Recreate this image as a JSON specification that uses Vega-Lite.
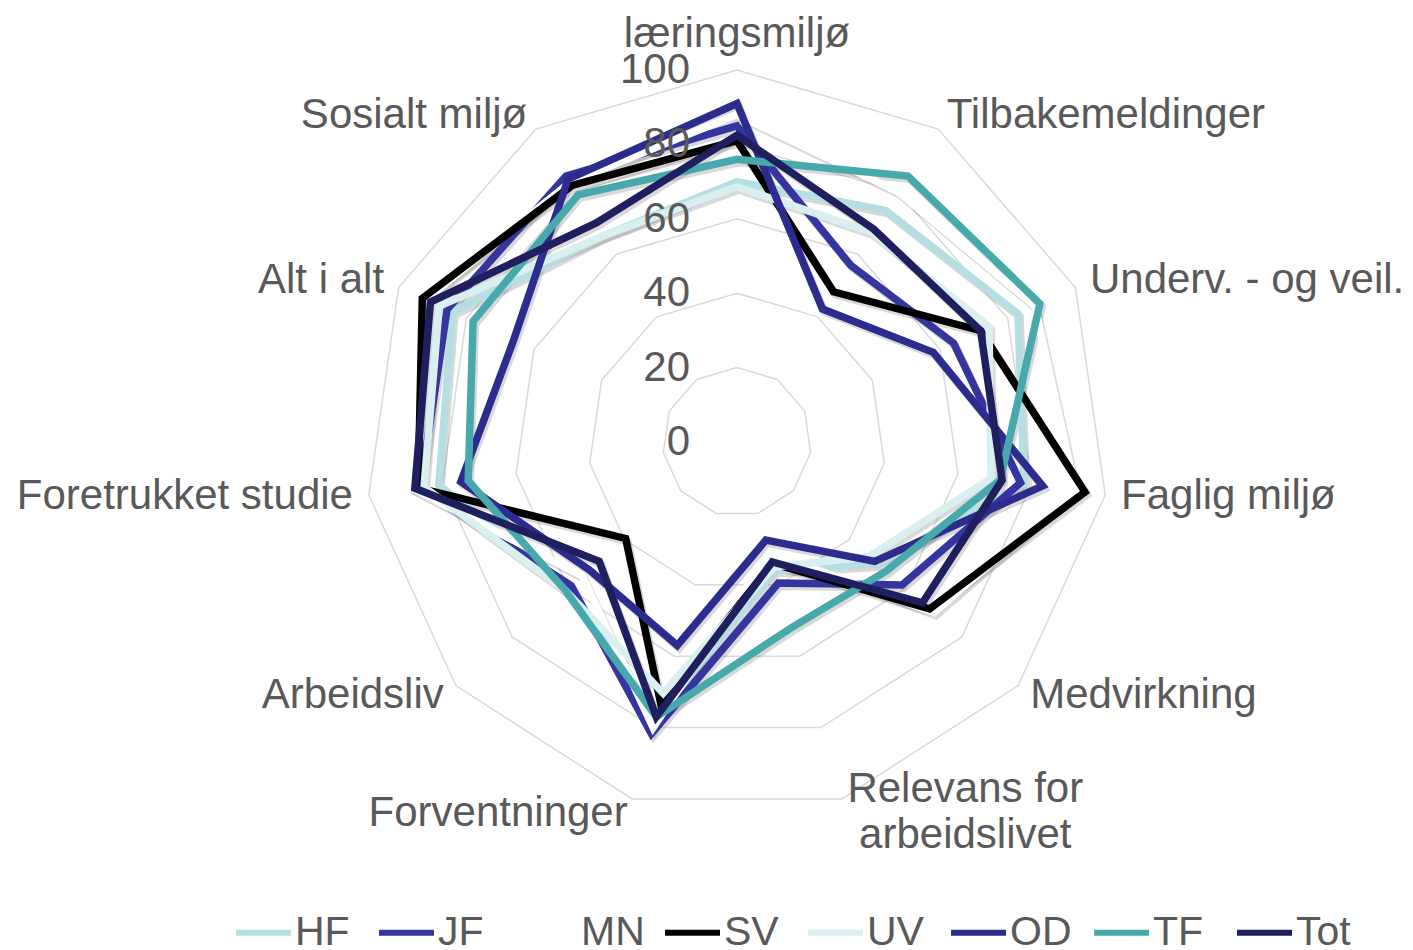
{
  "$schema": "https://vega.github.io/schema/vega-lite/v6.json",
  "width": 1413,
  "height": 950,
  "padding": 0,
  "autosize": {"type": "none"},
  "background": "white",
  "config": {"view": {"stroke": null}, "font": "Liberation Sans"},
  "datasets": {
    "axes": [
      {"idx": 0, "axis": "læringsmiljø"},
      {"idx": 1, "axis": "Tilbakemeldinger"},
      {"idx": 2, "axis": "Underv. - og veil."},
      {"idx": 3, "axis": "Faglig miljø"},
      {"idx": 4, "axis": "Medvirkning"},
      {"idx": 5, "axis": "Relevans for arbeidslivet"},
      {"idx": 6, "axis": "Forventninger"},
      {"idx": 7, "axis": "Arbeidsliv"},
      {"idx": 8, "axis": "Foretrukket studie"},
      {"idx": 9, "axis": "Alt i alt"},
      {"idx": 10, "axis": "Sosialt miljø"}
    ],
    "levels": [
      {"level": 20, "idx": [0,1,2,3,4,5,6,7,8,9,10]},
      {"level": 40, "idx": [0,1,2,3,4,5,6,7,8,9,10]},
      {"level": 60, "idx": [0,1,2,3,4,5,6,7,8,9,10]},
      {"level": 80, "idx": [0,1,2,3,4,5,6,7,8,9,10]},
      {"level": 100, "idx": [0,1,2,3,4,5,6,7,8,9,10]}
    ],
    "ticks": [
      {"level": 0}, {"level": 20}, {"level": 40}, {"level": 60}, {"level": 80}, {"level": 100}
    ],
    "scores": [
      {"series": "HF", "axis": "læringsmiljø", "value": 70},
      {"series": "HF", "axis": "Tilbakemeldinger", "value": 74},
      {"series": "HF", "axis": "Underv. - og veil.", "value": 83},
      {"series": "HF", "axis": "Faglig miljø", "value": 78},
      {"series": "HF", "axis": "Medvirkning", "value": 50},
      {"series": "HF", "axis": "Relevans for arbeidslivet", "value": 36},
      {"series": "HF", "axis": "Forventninger", "value": 77},
      {"series": "HF", "axis": "Arbeidsliv", "value": 60},
      {"series": "HF", "axis": "Foretrukket studie", "value": 81},
      {"series": "HF", "axis": "Alt i alt", "value": 84},
      {"series": "HF", "axis": "Sosialt miljø", "value": 66},

      {"series": "JF", "axis": "læringsmiljø", "value": 85},
      {"series": "JF", "axis": "Tilbakemeldinger", "value": 56.5},
      {"series": "JF", "axis": "Underv. - og veil.", "value": 64},
      {"series": "JF", "axis": "Faglig miljø", "value": 77},
      {"series": "JF", "axis": "Medvirkning", "value": 58.7},
      {"series": "JF", "axis": "Relevans for arbeidslivet", "value": 39.5},
      {"series": "JF", "axis": "Forventninger", "value": 81.7},
      {"series": "JF", "axis": "Arbeidsliv", "value": 59},
      {"series": "JF", "axis": "Foretrukket studie", "value": 86},
      {"series": "JF", "axis": "Alt i alt", "value": 85.7},
      {"series": "JF", "axis": "Sosialt miljø", "value": 85},

      {"series": "MN", "axis": "læringsmiljø", "value": 88},
      {"series": "MN", "axis": "Tilbakemeldinger", "value": 80},
      {"series": "MN", "axis": "Underv. - og veil.", "value": 88},
      {"series": "MN", "axis": "Faglig miljø", "value": 92},
      {"series": "MN", "axis": "Medvirkning", "value": 70},
      {"series": "MN", "axis": "Relevans for arbeidslivet", "value": 31},
      {"series": "MN", "axis": "Forventninger", "value": 80},
      {"series": "MN", "axis": "Arbeidsliv", "value": 55},
      {"series": "MN", "axis": "Foretrukket studie", "value": 88},
      {"series": "MN", "axis": "Alt i alt", "value": 92},
      {"series": "MN", "axis": "Sosialt miljø", "value": 83},

      {"series": "SV", "axis": "læringsmiljø", "value": 81},
      {"series": "SV", "axis": "Tilbakemeldinger", "value": 48},
      {"series": "SV", "axis": "Underv. - og veil.", "value": 72},
      {"series": "SV", "axis": "Faglig miljø", "value": 94.5},
      {"series": "SV", "axis": "Medvirkning", "value": 68.5},
      {"series": "SV", "axis": "Relevans for arbeidslivet", "value": 34},
      {"series": "SV", "axis": "Forventninger", "value": 73},
      {"series": "SV", "axis": "Arbeidsliv", "value": 39.6},
      {"series": "SV", "axis": "Foretrukket studie", "value": 86.6},
      {"series": "SV", "axis": "Alt i alt", "value": 93},
      {"series": "SV", "axis": "Sosialt miljø", "value": 82},

      {"series": "UV", "axis": "læringsmiljø", "value": 68.6},
      {"series": "UV", "axis": "Tilbakemeldinger", "value": 67},
      {"series": "UV", "axis": "Underv. - og veil.", "value": 74.5},
      {"series": "UV", "axis": "Faglig miljø", "value": 69},
      {"series": "UV", "axis": "Medvirkning", "value": 47},
      {"series": "UV", "axis": "Relevans for arbeidslivet", "value": 35},
      {"series": "UV", "axis": "Forventninger", "value": 70.4},
      {"series": "UV", "axis": "Arbeidsliv", "value": 61},
      {"series": "UV", "axis": "Foretrukket studie", "value": 85},
      {"series": "UV", "axis": "Alt i alt", "value": 88},
      {"series": "UV", "axis": "Sosialt miljø", "value": 66},

      {"series": "OD", "axis": "læringsmiljø", "value": 91},
      {"series": "OD", "axis": "Tilbakemeldinger", "value": 42.5},
      {"series": "OD", "axis": "Underv. - og veil.", "value": 58},
      {"series": "OD", "axis": "Faglig miljø", "value": 83},
      {"series": "OD", "axis": "Medvirkning", "value": 49},
      {"series": "OD", "axis": "Relevans for arbeidslivet", "value": 27.5},
      {"series": "OD", "axis": "Forventninger", "value": 57},
      {"series": "OD", "axis": "Arbeidsliv", "value": 52.5},
      {"series": "OD", "axis": "Foretrukket studie", "value": 75},
      {"series": "OD", "axis": "Alt i alt", "value": 66},
      {"series": "OD", "axis": "Sosialt miljø", "value": 84},

      {"series": "TF", "axis": "læringsmiljø", "value": 76},
      {"series": "TF", "axis": "Tilbakemeldinger", "value": 85},
      {"series": "TF", "axis": "Underv. - og veil.", "value": 89.5},
      {"series": "TF", "axis": "Faglig miljø", "value": 71.5},
      {"series": "TF", "axis": "Medvirkning", "value": 53},
      {"series": "TF", "axis": "Relevans for arbeidslivet", "value": 52},
      {"series": "TF", "axis": "Forventninger", "value": 77},
      {"series": "TF", "axis": "Arbeidsliv", "value": 61},
      {"series": "TF", "axis": "Foretrukket studie", "value": 73},
      {"series": "TF", "axis": "Alt i alt", "value": 78},
      {"series": "TF", "axis": "Sosialt miljø", "value": 79},

      {"series": "Tot", "axis": "læringsmiljø", "value": 82.5},
      {"series": "Tot", "axis": "Tilbakemeldinger", "value": 68},
      {"series": "Tot", "axis": "Underv. - og veil.", "value": 72},
      {"series": "Tot", "axis": "Faglig miljø", "value": 72},
      {"series": "Tot", "axis": "Medvirkning", "value": 66},
      {"series": "Tot", "axis": "Relevans for arbeidslivet", "value": 33.6},
      {"series": "Tot", "axis": "Forventninger", "value": 77},
      {"series": "Tot", "axis": "Arbeidsliv", "value": 49},
      {"series": "Tot", "axis": "Foretrukket studie", "value": 87.5},
      {"series": "Tot", "axis": "Alt i alt", "value": 90.6},
      {"series": "Tot", "axis": "Sosialt miljø", "value": 70}
    ]
  },
  "layer": [
    {
      "data": {"name": "levels"},
      "transform": [
        {"flatten": ["idx"]},
        {"calculate": "datum.level * sin(datum.idx * 2 * PI / 11)", "as": "px"},
        {"calculate": "datum.level * cos(datum.idx * 2 * PI / 11)", "as": "py"}
      ],
      "mark": {"type": "line", "interpolate": "linear-closed", "color": "#d9d9d9", "strokeWidth": 1.5},
      "encoding": {
        "x": {"field": "px", "type": "quantitative", "scale": {"domain": [-198.12, 181.72], "nice": false, "zero": false}, "axis": null},
        "y": {"field": "py", "type": "quantitative", "scale": {"domain": [-136.56, 118.82], "nice": false, "zero": false}, "axis": null},
        "detail": {"field": "level"},
        "order": {"field": "idx"}
      }
    },
    {
      "data": {"name": "scores"},
      "transform": [
        {"lookup": "axis", "from": {"data": {"name": "axes"}, "key": "axis", "fields": ["idx"]}},
        {"calculate": "datum.value * sin(datum.idx * 2 * PI / 11)", "as": "px"},
        {"calculate": "datum.value * cos(datum.idx * 2 * PI / 11)", "as": "py"}
      ],
      "mark": {"type": "line", "interpolate": "linear-closed", "color": "#808080", "opacity": 0.3, "strokeWidth": 8, "strokeJoin": "miter", "xOffset": 2, "yOffset": 3},
      "encoding": {
        "x": {"field": "px", "type": "quantitative", "scale": {"domain": [-198.12, 181.72], "nice": false, "zero": false}, "axis": null},
        "y": {"field": "py", "type": "quantitative", "scale": {"domain": [-136.56, 118.82], "nice": false, "zero": false}, "axis": null},
        "detail": {"field": "series"},
        "order": {"field": "idx"}
      }
    },
    {
      "data": {"name": "scores"},
      "transform": [
        {"lookup": "axis", "from": {"data": {"name": "axes"}, "key": "axis", "fields": ["idx"]}},
        {"calculate": "datum.value * sin(datum.idx * 2 * PI / 11)", "as": "px"},
        {"calculate": "datum.value * cos(datum.idx * 2 * PI / 11)", "as": "py"}
      ],
      "mark": {"type": "line", "interpolate": "linear-closed", "strokeWidth": 7.5, "strokeJoin": "miter"},
      "encoding": {
        "x": {"field": "px", "type": "quantitative", "scale": {"domain": [-198.12, 181.72], "nice": false, "zero": false}, "axis": null},
        "y": {"field": "py", "type": "quantitative", "scale": {"domain": [-136.56, 118.82], "nice": false, "zero": false}, "axis": null},
        "color": {
          "field": "series",
          "type": "nominal",
          "sort": ["HF", "JF", "MN", "SV", "UV", "OD", "TF", "Tot"],
          "scale": {
            "domain": ["HF", "JF", "MN", "SV", "UV", "OD", "TF", "Tot"],
            "range": ["#b5dfe3", "#3535a0", "#ffffff", "#000000", "#daeff0", "#2c2c8e", "#47a9ac", "#1f1f5f"]
          },
          "legend": {
            "title": null,
            "orient": "none",
            "legendX": 233,
            "legendY": 902,
            "direction": "horizontal",
            "columns": 8,
            "gridAlign": "all",
            "columnPadding": 8,
            "symbolType": "stroke",
            "symbolSize": 3025,
            "symbolStrokeWidth": 6,
            "labelFontSize": 41,
            "labelFont": "Liberation Sans",
            "labelColor": "#595959",
            "labelOffset": 1,
            "labelLimit": 300,
            "padding": 0
          }
        },
        "order": {"field": "idx"}
      }
    },
    {
      "data": {"name": "ticks"},
      "mark": {"type": "text", "align": "right", "baseline": "middle", "dx": -47, "fontSize": 42, "color": "#595959", "font": "Liberation Sans"},
      "encoding": {
        "x": {"datum": 0, "type": "quantitative", "scale": {"domain": [-198.12, 181.72], "nice": false, "zero": false}, "axis": null},
        "y": {"field": "level", "type": "quantitative", "scale": {"domain": [-136.56, 118.82], "nice": false, "zero": false}, "axis": null},
        "text": {"field": "level", "type": "quantitative"}
      }
    },
    {
      "data": {"name": "axes"},
      "transform": [
        {"filter": "datum.idx >= 1 && datum.idx <= 4"},
        {"calculate": "104.3 * sin(datum.idx * 2 * PI / 11)", "as": "px"},
        {"calculate": "104.3 * cos(datum.idx * 2 * PI / 11)", "as": "py"}
      ],
      "mark": {"type": "text", "align": "left", "baseline": "middle", "dy": -1, "fontSize": 42, "color": "#595959", "font": "Liberation Sans"},
      "encoding": {
        "x": {"field": "px", "type": "quantitative", "scale": {"domain": [-198.12, 181.72], "nice": false, "zero": false}, "axis": null},
        "y": {"field": "py", "type": "quantitative", "scale": {"domain": [-136.56, 118.82], "nice": false, "zero": false}, "axis": null},
        "text": {"field": "axis"}
      }
    },
    {
      "data": {"name": "axes"},
      "transform": [
        {"filter": "datum.idx >= 6"},
        {"calculate": "104.3 * sin(datum.idx * 2 * PI / 11)", "as": "px"},
        {"calculate": "104.3 * cos(datum.idx * 2 * PI / 11)", "as": "py"}
      ],
      "mark": {"type": "text", "align": "right", "baseline": "middle", "dy": -1, "fontSize": 42, "color": "#595959", "font": "Liberation Sans"},
      "encoding": {
        "x": {"field": "px", "type": "quantitative", "scale": {"domain": [-198.12, 181.72], "nice": false, "zero": false}, "axis": null},
        "y": {"field": "py", "type": "quantitative", "scale": {"domain": [-136.56, 118.82], "nice": false, "zero": false}, "axis": null},
        "text": {"field": "axis"}
      }
    },
    {
      "data": {"name": "axes"},
      "transform": [
        {"filter": "datum.idx == 0"},
        {"calculate": "104.3 * sin(datum.idx * 2 * PI / 11)", "as": "px"},
        {"calculate": "104.3 * cos(datum.idx * 2 * PI / 11)", "as": "py"}
      ],
      "mark": {"type": "text", "align": "center", "baseline": "middle", "dy": -20, "fontSize": 42, "color": "#595959", "font": "Liberation Sans"},
      "encoding": {
        "x": {"field": "px", "type": "quantitative", "scale": {"domain": [-198.12, 181.72], "nice": false, "zero": false}, "axis": null},
        "y": {"field": "py", "type": "quantitative", "scale": {"domain": [-136.56, 118.82], "nice": false, "zero": false}, "axis": null},
        "text": {"field": "axis"}
      }
    },
    {
      "data": {"name": "axes"},
      "transform": [
        {"filter": "datum.idx == 5"},
        {"calculate": "104.3 * sin(datum.idx * 2 * PI / 11)", "as": "px"},
        {"calculate": "104.3 * cos(datum.idx * 2 * PI / 11)", "as": "py"},
        {"calculate": "replace(datum.axis, 'for ', 'for\\n')", "as": "lines"}
      ],
      "mark": {"type": "text", "align": "center", "baseline": "middle", "dx": 119, "dy": -25, "lineBreak": "\n", "lineHeight": 46, "fontSize": 42, "color": "#595959", "font": "Liberation Sans"},
      "encoding": {
        "x": {"field": "px", "type": "quantitative", "scale": {"domain": [-198.12, 181.72], "nice": false, "zero": false}, "axis": null},
        "y": {"field": "py", "type": "quantitative", "scale": {"domain": [-136.56, 118.82], "nice": false, "zero": false}, "axis": null},
        "text": {"field": "lines"}
      }
    }
  ]
}
